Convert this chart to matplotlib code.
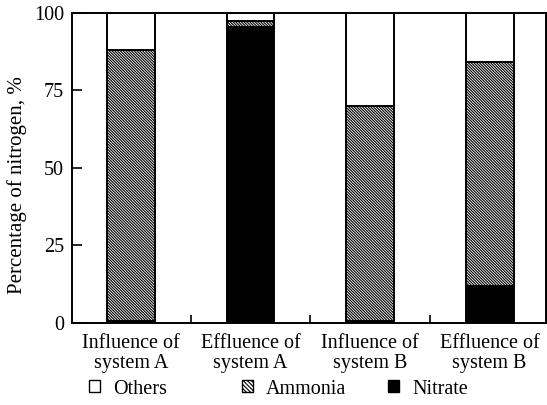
import numpy as np
import matplotlib
matplotlib.use('Agg')
import matplotlib.pyplot as plt
from matplotlib.patches import Patch

plt.rcParams['font.family'] = ['Liberation Serif', 'DejaVu Serif']
plt.rcParams['hatch.linewidth'] = 0.8

categories = ['Influence of\nsystem A', 'Effluence of\nsystem A',
              'Influence of\nsystem B', 'Effluence of\nsystem B']
nitrate = [0.5, 95.5, 0.5, 12]
ammonia = [87.5, 2, 69.5, 72]
others = [12, 2.5, 30, 16]
yticks = [0, 25, 50, 75, 100]
series_names = ['Others', 'Ammonia', 'Nitrate']

x = np.arange(len(categories))
nitrate = np.array(nitrate)
ammonia = np.array(ammonia)
others = np.array(others)

fig = plt.figure(figsize=(5.47, 4.05), dpi=100)
ax = fig.add_axes([0.132, 0.2025, 0.866, 0.766])

w = 0.4
hatch = '\\' * 12
ax.bar(x, nitrate, w, color='black', edgecolor='black', linewidth=1.4)
ax.bar(x, ammonia, w, bottom=nitrate, color='white', edgecolor='black',
       hatch=hatch, linewidth=1.4)
ax.bar(x, others, w, bottom=nitrate + ammonia, color='white', edgecolor='black',
       linewidth=1.4)

ax.set_xlim(-0.49, 3.47)
ax.set_ylim(0, 100)
ax.set_yticks(yticks)
ax.set_yticklabels([str(t) for t in yticks], fontsize=14.5)
ax.set_xticks(x)
ax.set_xticklabels(categories, fontsize=14.5, linespacing=1.1)
ax.set_xticks([0.5, 1.5, 2.5], minor=True)
ax.tick_params(axis='x', which='major', length=0, pad=8)
ax.tick_params(axis='x', which='minor', direction='in', length=6, width=1.2)
ax.tick_params(axis='y', direction='in', length=7, width=1.2, pad=6)
ax.set_ylabel('Percentage of nitrogen, %', fontsize=15)
ax.yaxis.set_label_coords(-0.095, 0.445)
for s in ax.spines.values():
    s.set_linewidth(1.4)

handles = [Patch(facecolor='white', edgecolor='black', label=series_names[0]),
           Patch(facecolor='white', edgecolor='black', hatch='\\' * 8, label=series_names[1]),
           Patch(facecolor='black', edgecolor='black', label=series_names[2])]
leg_x = [89, 242, 388]
for h, lx in zip(handles, leg_x):
    fig.legend(handles=[h], loc='center left', bbox_to_anchor=(lx / 547, 1 - 389 / 405),
               frameon=False, fontsize=14.5, handlelength=0.55, handleheight=0.55,
               handletextpad=0.65, borderpad=0, borderaxespad=0)

fig.savefig('out.png', dpi=100)
